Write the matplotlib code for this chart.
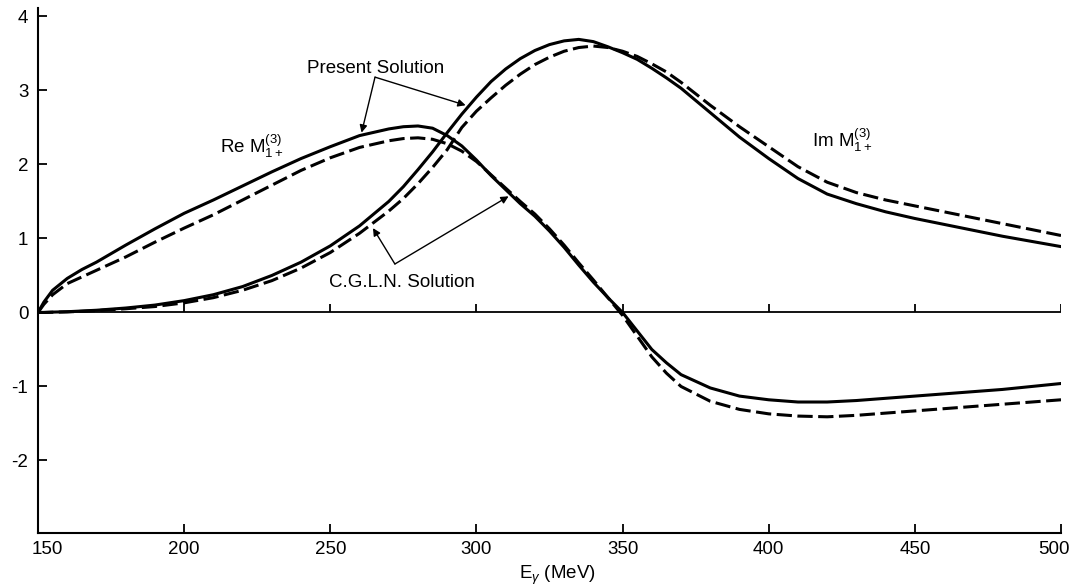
import matplotlib
matplotlib.use("Agg")
import matplotlib.pyplot as plt
import matplotlib.transforms as mtransforms

plt.rcParams['font.family'] = ['Liberation Sans', 'DejaVu Sans']
plt.rcParams['mathtext.fontset'] = 'custom'
plt.rcParams['mathtext.rm'] = 'Liberation Sans'
plt.rcParams['mathtext.it'] = 'Liberation Sans:italic'
plt.rcParams['mathtext.bf'] = 'Liberation Sans:bold'

# photon energy (MeV)
energy = [150, 152, 155, 160, 165, 170, 180, 190, 200, 210, 220, 230, 240, 250,
          260, 270, 275, 280, 285, 290, 295, 300, 305, 310, 315, 320, 325, 330,
          335, 340, 345, 350, 355, 360, 365, 370, 380, 390, 400, 410, 420, 430,
          440, 450, 460, 470, 480, 490, 500]

# Re M_{1+}^{(3)}
re_present = [0.0, 0.14, 0.30, 0.46, 0.58, 0.68, 0.91, 1.13, 1.34, 1.52, 1.71, 1.90,
              2.08, 2.24, 2.39, 2.48, 2.51, 2.52, 2.49, 2.39, 2.25, 2.06, 1.85, 1.66,
              1.47, 1.30, 1.10, 0.88, 0.64, 0.41, 0.20, 0.0, -0.25, -0.50, -0.68,
              -0.84, -1.02, -1.13, -1.18, -1.21, -1.21, -1.19, -1.16, -1.13, -1.10,
              -1.07, -1.04, -1.00, -0.96]
re_cgln = [0.0, 0.11, 0.24, 0.39, 0.48, 0.57, 0.75, 0.95, 1.14, 1.32, 1.52, 1.72,
           1.92, 2.09, 2.23, 2.32, 2.35, 2.36, 2.34, 2.28, 2.18, 2.04, 1.86, 1.68,
           1.50, 1.33, 1.13, 0.91, 0.67, 0.44, 0.20, -0.04, -0.32, -0.60, -0.82,
           -1.00, -1.20, -1.31, -1.37, -1.40, -1.41, -1.39, -1.36, -1.33, -1.30,
           -1.27, -1.24, -1.21, -1.18]

# Im M_{1+}^{(3)}
im_present = [0.0, 0.0, 0.005, 0.01, 0.02, 0.03, 0.06, 0.10, 0.16, 0.24, 0.35, 0.50,
              0.68, 0.90, 1.17, 1.50, 1.70, 1.93, 2.17, 2.43, 2.68, 2.91, 3.12, 3.29,
              3.43, 3.54, 3.62, 3.67, 3.69, 3.66, 3.59, 3.51, 3.42, 3.30, 3.17, 3.03,
              2.70, 2.37, 2.08, 1.81, 1.60, 1.47, 1.36, 1.27, 1.19, 1.11, 1.03, 0.96,
              0.89]
im_cgln = [0.0, 0.0, 0.003, 0.008, 0.015, 0.025, 0.05, 0.08, 0.13, 0.20, 0.30, 0.43,
           0.60, 0.81, 1.07, 1.37, 1.54, 1.74, 1.96, 2.20, 2.50, 2.72, 2.90, 3.07,
           3.22, 3.35, 3.45, 3.53, 3.58, 3.60, 3.58, 3.53, 3.46, 3.36, 3.25, 3.11,
           2.80, 2.51, 2.24, 1.97, 1.76, 1.62, 1.52, 1.44, 1.36, 1.28, 1.20, 1.12,
           1.04]

x_ticks = [150, 200, 250, 300, 350, 400, 450, 500]
y_ticks = [-2, -1, 0, 1, 2, 3, 4]

fig = plt.figure(figsize=(10.74, 5.87), dpi=100)
ax = fig.add_axes([0.0354, 0.0920, 0.9525, 0.8951])

lw = 2.2
dash = (0, (5, 1.8))
ax.plot(energy, re_present, color='black', lw=lw)
ax.plot(energy, re_cgln, color='black', lw=lw, linestyle=dash)
ax.plot(energy, im_present, color='black', lw=lw)
ax.plot(energy, im_cgln, color='black', lw=lw, linestyle=dash)

ax.set_xlim(150, 500)
ax.set_ylim(-2.98, 4.12)
ax.set_xticks(x_ticks)
ax.set_yticks(y_ticks)
ax.set_yticklabels([str(v) for v in y_ticks])
for s in ('top', 'right'):
    ax.spines[s].set_visible(False)
for s in ('left', 'bottom'):
    ax.spines[s].set_linewidth(1.5)
ax.tick_params(direction='in', length=6.5, width=1.3, labelsize=13.5)
ax.tick_params(axis='y', pad=7)
ax.tick_params(axis='x', pad=6)

# nudge the corner tick labels as in the original drawing
xlabels = ax.get_xticklabels()
xlabels[0].set_transform(xlabels[0].get_transform() +
                         mtransforms.ScaledTranslation(9 / 100, 0, fig.dpi_scale_trans))
xlabels[-1].set_transform(xlabels[-1].get_transform() +
                          mtransforms.ScaledTranslation(-7 / 100, 0, fig.dpi_scale_trans))

# zero line with its own upward ticks
ax.axhline(0, color='black', lw=1.3)
ax.vlines(x_ticks[1:], 0, 0.11, color='black', lw=1.3)

fs = 13.5
arrow = dict(arrowstyle='-|>', color='black', lw=1.0, mutation_scale=11,
             shrinkA=0, shrinkB=0)

ax.text(265.6, 3.23, 'Present Solution', ha='center', va='baseline', fontsize=fs)
ax.annotate('', xy=(260.7, 2.43), xytext=(265.3, 3.18), arrowprops=arrow)
ax.annotate('', xy=(296.3, 2.80), xytext=(265.3, 3.18), arrowprops=arrow)

ax.text(274.4, 0.34, 'C.G.L.N. Solution', ha='center', va='baseline', fontsize=fs)
ax.annotate('', xy=(264.6, 1.14), xytext=(272.1, 0.655), arrowprops=arrow)
ax.annotate('', xy=(311.0, 1.57), xytext=(272.1, 0.655), arrowprops=arrow)

ax.text(212.3, 2.15, r'Re M$^{(3)}_{1+}$', ha='left', va='baseline', fontsize=fs)
ax.text(414.8, 2.24, r'Im M$^{(3)}_{1+}$', ha='left', va='baseline', fontsize=fs)

fig.text(0.5186, 0.0136, r'E$_\gamma$ (MeV)', ha='center', va='baseline', fontsize=fs)

fig.savefig('out.png', dpi=100)
